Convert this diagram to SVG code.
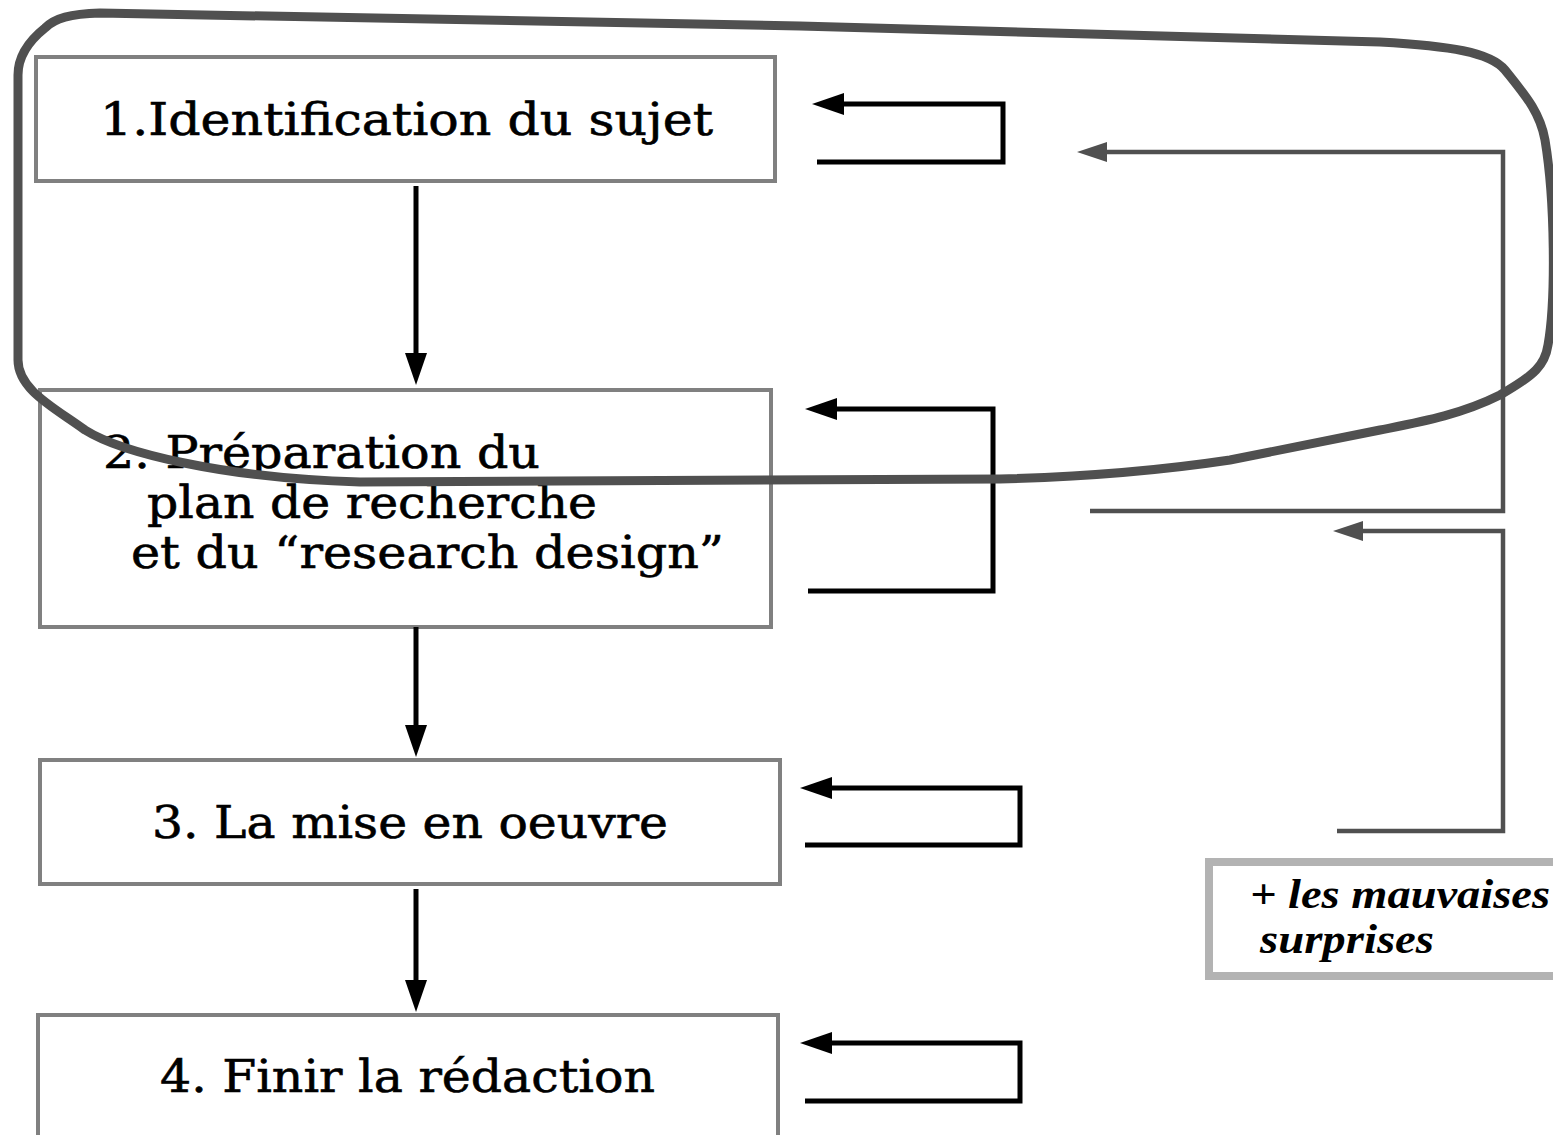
<svg xmlns="http://www.w3.org/2000/svg" width="1553" height="1135" viewBox="0 0 1553 1135">
<style>
.box{fill:#fff;stroke:#808080;stroke-width:4}
.t{font-family:"DejaVu Serif","Liberation Serif",serif;font-size:45px;fill:#000;stroke:#000;stroke-width:0.6}
.s{font-family:"Liberation Serif",serif;font-size:43px;font-weight:bold;font-style:italic;fill:#000}
.blk{fill:none;stroke:#000;stroke-width:5}
.gry{fill:none;stroke:#505050;stroke-width:4.5}
</style>
<defs>
<marker id="ab" viewBox="0 -11 32 22" markerWidth="32" markerHeight="22" refX="0" refY="0" orient="auto" markerUnits="userSpaceOnUse"><path d="M0,-11 L32,0 L0,11 z" fill="#000"/></marker>
<marker id="ag" viewBox="0 -10 30 20" markerWidth="30" markerHeight="20" refX="0" refY="0" orient="auto" markerUnits="userSpaceOnUse"><path d="M0,-10 L30,0 L0,10 z" fill="#505050"/></marker>
</defs>
<rect width="1553" height="1135" fill="#fff"/>
<g id="n1"><rect class="box" x="36" y="57" width="739" height="124"/><text class="t" x="100" y="135" textLength="613" lengthAdjust="spacingAndGlyphs">1.Identification du sujet</text></g>
<g id="n2"><rect class="box" x="40" y="390" width="731" height="237"/>
<text class="t" x="103" y="468" textLength="437" lengthAdjust="spacingAndGlyphs">2. Préparation du</text>
<text class="t" x="147" y="518" textLength="450" lengthAdjust="spacingAndGlyphs">plan de recherche</text>
<text class="t" x="131" y="568" textLength="593" lengthAdjust="spacingAndGlyphs">et du “research design”</text></g>
<g id="n3"><rect class="box" x="40" y="760" width="740" height="124"/><text class="t" x="152" y="838" textLength="516" lengthAdjust="spacingAndGlyphs">3. La mise en oeuvre</text></g>
<g id="n4"><rect class="box" x="38" y="1015" width="740" height="140"/><text class="t" x="160" y="1092" textLength="495" lengthAdjust="spacingAndGlyphs">4. Finir la rédaction</text></g>
<g id="n5"><rect x="1209" y="862" width="380" height="114" fill="#fff" stroke="#b3b3b3" stroke-width="8"/>
<text class="s" x="1250" y="908" textLength="300" lengthAdjust="spacingAndGlyphs">+ les mauvaises</text>
<text class="s" x="1260" y="953" textLength="174" lengthAdjust="spacingAndGlyphs">surprises</text></g>
<g id="connectors">
<path class="blk" d="M416,186 V353" marker-end="url(#ab)"/>
<path class="blk" d="M416,627 V725" marker-end="url(#ab)"/>
<path class="blk" d="M416,889 V980" marker-end="url(#ab)"/>
<path class="blk" d="M817,162 H1003 V104 H844" marker-end="url(#ab)"/>
<path class="blk" d="M808,591 H993 V409 H837" marker-end="url(#ab)"/>
<path class="blk" d="M805,845 H1020 V788 H832" marker-end="url(#ab)"/>
<path class="blk" d="M805,1101 H1020 V1043 H832" marker-end="url(#ab)"/>
<path class="gry" d="M1090,511 H1503 V152 H1107" marker-end="url(#ag)"/>
<path class="gry" d="M1337,831 H1503 V531 H1363" marker-end="url(#ag)"/>
</g>
<g id="loop">
<path d="M18,360 L18,75 C18,55 30,40 45,28 C55,18 70,14 100,13 L800,26 L1380,42 C1450,46 1490,52 1505,70 C1525,95 1540,112 1545,140 C1555,200 1556,300 1548,345 C1545,365 1535,375 1500,395 C1460,415 1420,422 1380,430 L1230,460 C1150,472 1080,477 1000,479 L360,482 C220,478 120,452 85,430 C55,408 18,390 18,360 Z" fill="none" stroke="#505050" stroke-width="9"/>
</g>
</svg>
